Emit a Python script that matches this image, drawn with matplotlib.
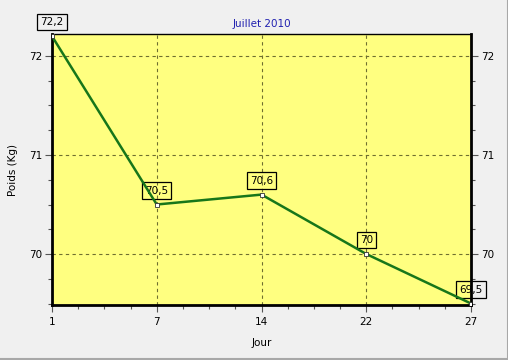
import matplotlib.pyplot as plt
from matplotlib.ticker import MultipleLocator
from matplotlib.lines import Line2D

# Poids par jour (juillet 2010)
jours = ['1', '7', '14', '22', '27']
poids = [72.2, 70.5, 70.6, 70.0, 69.5]
etiquettes = ['72,2', '70,5', '70,6', '70', '69,5']

fig = plt.figure(figsize=(5.08, 3.60), dpi=100, facecolor='#f0f0f0')
ax = fig.add_axes([52 / 508, 55 / 360, 419 / 508, 271 / 360])
ax.set_facecolor('#ffff80')

x = list(range(len(jours)))
ax.plot(x, poids, color='#17761a', linewidth=1.8, zorder=3,
        marker='s', markersize=3, markerfacecolor='white',
        markeredgecolor='#333333', markeredgewidth=0.6)

for xi, yi, txt in zip(x, poids, etiquettes):
    ax.annotate(txt, (xi, yi), xytext=(0, 9), textcoords='offset pixels',
                ha='center', va='bottom', fontsize=7.5, zorder=2,
                annotation_clip=False,
                bbox=dict(boxstyle='square,pad=0.3', facecolor='none',
                          edgecolor='black', linewidth=0.9))

ax.set_xlim(0, len(jours) - 1)
ax.set_ylim(69.485, 72.222)
ax.set_xticks(x)
ax.set_xticklabels(jours)
ax.xaxis.set_minor_locator(MultipleLocator(0.25))
ax.set_yticks([70, 71, 72])
ax.yaxis.set_minor_locator(MultipleLocator(0.25))

ax.tick_params(axis='both', which='major', direction='out', length=5,
               labelsize=7.5, width=0.8, color='#555555')
ax.tick_params(axis='both', which='minor', direction='out', length=3,
               width=0.8, color='#555555')
ax.tick_params(axis='y', right=True, labelright=True, which='both')
ax.tick_params(axis='y', which='major', pad=2)

ax.grid(True, which='major', linestyle=(0, (3, 3)), color='#6f6f30',
        linewidth=0.8)

for side in ['left', 'right', 'bottom']:
    ax.spines[side].set_linewidth(2)
    ax.spines[side].set_color('black')
ax.spines['top'].set_linewidth(1)

ax.set_title('Juillet 2010', fontsize=7.5, color='#2020b0', pad=5)
ax.set_xlabel('Jour', fontsize=7.5, labelpad=8)
ax.set_ylabel('Poids (Kg)', fontsize=7.5, labelpad=8)

# bordure grise en bas et à droite
fig.lines.append(Line2D([0, 1, 1], [0.003, 0.003, 1], transform=fig.transFigure,
                        color='#a8a8a8', linewidth=1.5))

fig.savefig('out.png', dpi=100, facecolor=fig.get_facecolor())
